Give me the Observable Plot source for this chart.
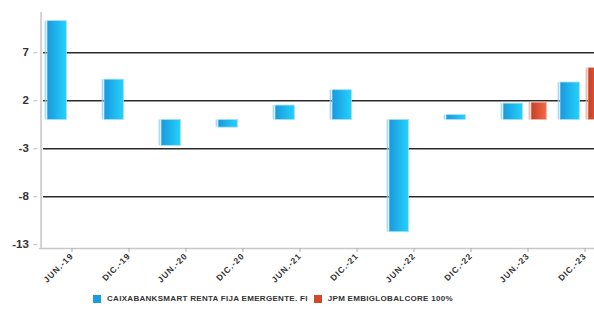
<!DOCTYPE html>
<html>
<head>
<meta charset="utf-8">
<script src="https://cdn.jsdelivr.net/npm/d3@7"></script>
<script src="https://cdn.jsdelivr.net/npm/@observablehq/plot@0.6"></script>
<style>
  html, body { margin: 0; padding: 0; background: #fff; }
  #wrap { width: 594px; height: 309px; overflow: hidden; position: relative; font-family: "Liberation Sans", Arial, sans-serif; }
  #legend { position: absolute; left: 93px; top: 294px; display: flex; align-items: center; gap: 6px; font-size: 8px; font-weight: bold; color: #333; letter-spacing: 0.3px; white-space: nowrap; }
  .item { display: flex; align-items: center; gap: 6px; }
  .sw { width: 8px; height: 8px; display: inline-block; }
</style>
</head>
<body>
<div id="wrap"><div id="chart"></div><div id="legend"></div></div>
<script>
const categories = ["JUN.-19","DIC.-19","JUN.-20","DIC.-20","JUN.-21","DIC.-21","JUN.-22","DIC.-22","JUN.-23","DIC.-23"];
const fundValues = [10.3, 4.2, -2.7, -0.8, 1.5, 3.1, -11.7, 0.5, 1.7, 3.9];
const benchValues = [null, null, null, null, null, null, null, null, 1.8, 5.4];
const seriesNames = ["CAIXABANKSMART RENTA FIJA EMERGENTE. FI", "JPM EMBIGLOBALCORE 100%"];
const yTicks = [-13, -8, -3, 2, 7];
const gridValues = [7, 2, -3, -8];
const yDomain = [-13.4, 11.2];

const fund = categories.map((c, i) => ({cat: c, v: fundValues[i]}));
const bench = categories.map((c, i) => ({cat: c, v: benchValues[i]})).filter(d => d.v != null);

const step = 57.33;
const chart = Plot.plot({
  width: 594,
  height: 288,
  marginLeft: 37.33,
  marginRight: -16.67,
  marginTop: 12,
  marginBottom: 40,
  style: {fontFamily: "'Liberation Sans', Arial, sans-serif", background: "transparent", overflow: "hidden"},
  x: {domain: categories, padding: 0, label: null},
  y: {domain: yDomain, label: null},
  marks: [
    Plot.ruleY(gridValues, {stroke: "#2a2a2a", strokeWidth: 1.4, insetLeft: 5.7}),
    Plot.ruleY([yDomain[0]], {stroke: "#c8c8c8", strokeWidth: 1.5, insetLeft: 1.5}),
    Plot.ruleX([0], {x: () => categories[0], y1: yDomain[0], y2: yDomain[1], dx: -26.9, stroke: "#d2d2d2", strokeWidth: 2}),
    // fund bars
    Plot.barY(fund, {x: "cat", y: "v", fill: "url(#gBlue)", stroke: "#a9dcf6", strokeWidth: 0.8, insetLeft: 8, insetRight: step - 23.0 - 5.7 + 1}),
    Plot.barY(fund, {x: "cat", y: "v", fill: "#8fd2f4", insetLeft: 5.7, insetRight: step - 5.7 - 1.4}),
    // benchmark bars
    Plot.barY(bench, {x: "cat", y: "v", fill: "url(#gRed)", stroke: "#f0b3a5", strokeWidth: 0.8, insetLeft: 36, insetRight: 5.7}),
    Plot.barY(bench, {x: "cat", y: "v", fill: "#eda595", insetLeft: 33.7, insetRight: step - 33.7 - 1.4}),
    Plot.axisY({ticks: yTicks, tickFormat: d => String(d), tickSize: 4, tickPadding: 5, stroke: "#bbb", fill: "#333", fontSize: 11.5, fontWeight: "bold", label: null}),
    Plot.axisX({tickSize: 4, tickPadding: 2, tickRotate: -45, dx: 4, stroke: "#aaa", fill: "#333", fontSize: 8.5, fontWeight: "bold", label: null})
  ]
});

const ns = "http://www.w3.org/2000/svg";
const defs = document.createElementNS(ns, "defs");
defs.innerHTML = `
  <linearGradient id="gBlue" x1="0" x2="1" y1="0" y2="0">
    <stop offset="0" stop-color="#1b98de"/>
    <stop offset="1" stop-color="#22d2fb"/>
  </linearGradient>
  <linearGradient id="gRed" x1="0" x2="1" y1="0" y2="0">
    <stop offset="0" stop-color="#c43f27"/>
    <stop offset="1" stop-color="#f56846"/>
  </linearGradient>`;
chart.insertBefore(defs, chart.firstChild);
chart.querySelectorAll('g[aria-label="x-axis tick label"] text').forEach(t => t.setAttribute("letter-spacing", "0.9"));
document.getElementById("chart").appendChild(chart);

const colors = ["#1b9be0", "#d3472d"];
const legend = document.getElementById("legend");
seriesNames.forEach((n, i) => {
  const it = document.createElement("div");
  it.className = "item";
  it.innerHTML = `<span class="sw" style="background:${colors[i]}"></span><span>${n}</span>`;
  legend.appendChild(it);
});
</script>
</body>
</html>
